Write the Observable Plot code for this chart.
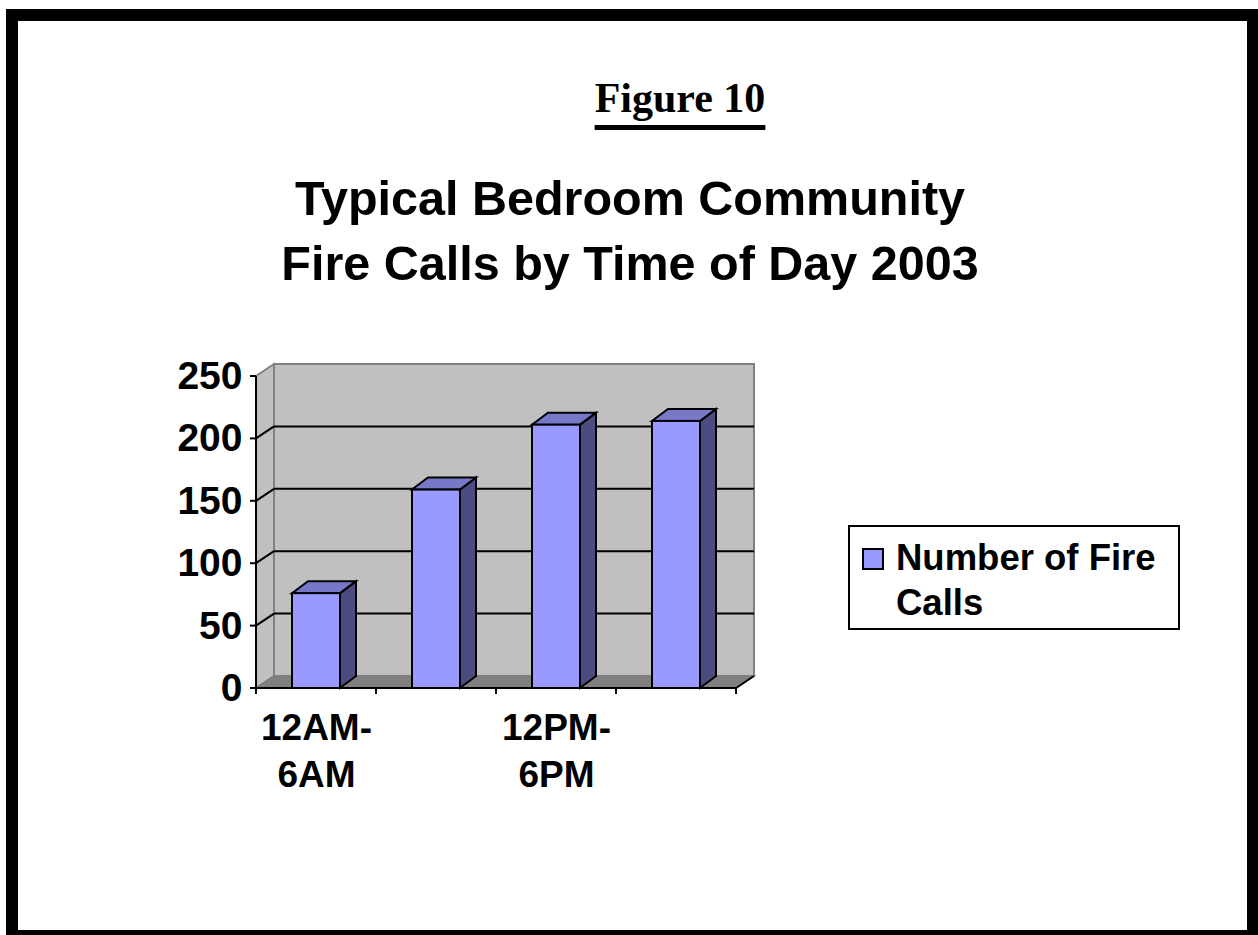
<!DOCTYPE html>
<html>
<head>
<meta charset="utf-8">
<script src="https://cdn.jsdelivr.net/npm/d3@7"></script>
<script src="https://cdn.jsdelivr.net/npm/@observablehq/plot@0.6"></script>
<style>
  html, body { margin: 0; padding: 0; background: #fff; }
  body { width: 1258px; height: 935px; overflow: hidden; position: relative; }
  #chart { position: absolute; left: 0; top: 0; }
  .frame { position: absolute; left: 6px; top: 9px; width: 1253px; height: 933px;
           border: 12px solid #000; box-sizing: border-box; pointer-events: none; }
  .fig { position: absolute; left: 0; top: 78px; width: 1360px; text-align: center;
         font-family: "Liberation Serif", "Times New Roman", serif; font-weight: bold;
         font-size: 42px; line-height: 40px; color: #000; }
  .fig span { text-decoration: underline; text-decoration-thickness: 5px; text-underline-offset: 13px; }
  .title { position: absolute; left: 0; top: 166px; width: 1260px; text-align: center;
           font-family: "Liberation Sans", Arial, sans-serif; font-weight: bold;
           font-size: 48.5px; line-height: 65px; color: #000; }
  .legend { position: absolute; left: 848px; top: 525px; width: 332px; height: 105px;
            border: 2px solid #000; box-sizing: border-box; background: #fff; }
  .legend .sw { position: absolute; left: 12px; top: 21px; width: 22px; height: 22px;
                background: #9999FF; border: 2px solid #000; box-sizing: border-box; }
  .legend .lt { position: absolute; left: 46px; top: 8px; width: 290px;
                font-family: "Liberation Sans", Arial, sans-serif; font-weight: bold;
                font-size: 36.5px; line-height: 45px; color: #000; white-space: nowrap; }
</style>
</head>
<body>
<div id="chart"></div>
<div class="fig"><span>Figure 10</span></div>
<div class="title">Typical Bedroom Community<br>Fire Calls by Time of Day 2003</div>
<div class="legend"><div class="sw"></div><div class="lt" id="legendText"></div></div>
<div class="frame"></div>
<script>
// ---- data ----
const categories = ["12AM-6AM", "6AM-12PM", "12PM-6PM", "6PM-12AM"];
const fireCalls = [76, 159, 211, 214];
const yTicks = [0, 50, 100, 150, 200, 250];
const xTickLabels = ["12AM-6AM", "12PM-6PM"];
const seriesName = "Number of Fire Calls";

const data = categories.map((c, i) => ({category: c, calls: fireCalls[i]}));

// ---- styles ----
const FRONT = "#9999FF", TOP = "#7878C8", SIDE = "#4C4C80";
const WALL = "#C0C0C0", FLOOR = "#808080", EDGE = "#808080";
const DX = 18, DY = -12;      // wall depth
const BDX = 16, BDY = -12;    // bar depth
const INSET = 36;
const FONT = "'Liberation Sans', Arial, sans-serif";

document.getElementById("legendText").innerHTML = "Number of Fire<br>Calls";

function poly(g, pts, fill, stroke, sw) {
  g.append("polygon").attr("points", pts.map(p => p.join(",")).join(" "))
    .attr("fill", fill).attr("stroke", stroke).attr("stroke-width", sw)
    .attr("stroke-linejoin", "miter");
}
function line(g, a, b, stroke, sw) {
  g.append("line").attr("x1", a[0]).attr("y1", a[1]).attr("x2", b[0]).attr("y2", b[1])
    .attr("stroke", stroke).attr("stroke-width", sw);
}

// walls, floor, grid and axis lines
function walls(index, scales) {
  const x = scales.x, y = scales.y;
  const [xl, xr] = x.range();
  const y0 = y(yTicks[0]), yt = y(yTicks[yTicks.length - 1]);
  const g = d3.create("svg:g");
  poly(g, [[xl, y0], [xl, yt], [xl + DX, yt + DY], [xl + DX, y0 + DY]], WALL, EDGE, 2);
  poly(g, [[xl + DX, y0 + DY], [xl + DX, yt + DY], [xr + DX, yt + DY], [xr + DX, y0 + DY]], WALL, EDGE, 2);
  poly(g, [[xl, y0], [xr, y0], [xr + DX, y0 + DY], [xl + DX, y0 + DY]], FLOOR, EDGE, 1.5);
  for (const t of yTicks.slice(1, -1)) {
    const yy = y(t);
    line(g, [xl + DX, yy + DY], [xr + DX, yy + DY], "#000", 2);
    line(g, [xl, yy], [xl + DX, yy + DY], "#000", 2);
  }
  // y axis
  line(g, [xl, y0 + 1], [xl, yt], "#000", 2);
  for (const t of yTicks) line(g, [xl - 6, y(t)], [xl, y(t)], "#000", 2);
  // x axis
  line(g, [xl - 1, y0], [xr, y0], "#000", 2);
  const bounds = categories.map(c => x(c)).concat([xr]);
  for (const b of bounds) line(g, [b, y0], [b, y0 + 6], "#000", 2);
  line(g, [xr, y0], [xr + DX, y0 + DY], "#000", 2);
  return g.node();
}

// top and side faces of bars
function barFaces(index, scales) {
  const x = scales.x, y = scales.y;
  const bw = x.bandwidth();
  const y0 = y(0);
  const g = d3.create("svg:g");
  for (const d of data) {
    const x1 = x(d.category) + INSET, x2 = x(d.category) + bw - INSET, yv = y(d.calls);
    poly(g, [[x2, y0], [x2 + BDX, y0 + BDY], [x2 + BDX, yv + BDY], [x2, yv]], SIDE, "#000", 2);
    poly(g, [[x1, yv], [x2, yv], [x2 + BDX, yv + BDY], [x1 + BDX, yv + BDY]], TOP, "#000", 2);
  }
  return g.node();
}

const chart = Plot.plot({
  width: 1258,
  height: 935,
  marginLeft: 256,
  marginRight: 522,
  marginTop: 376,
  marginBottom: 247,
  style: {background: "transparent", fontFamily: FONT, overflow: "visible"},
  x: {type: "band", domain: categories, padding: 0, axis: null},
  y: {domain: [0, 250], axis: null},
  marks: [
    walls,
    barFaces,
    Plot.barY(data, {x: "category", y: "calls", fill: FRONT, stroke: "#000", strokeWidth: 2,
                     insetLeft: INSET, insetRight: INSET}),
    Plot.text(yTicks, {y: d => d, text: d => String(d), frameAnchor: "left", textAnchor: "end",
                       dx: -14, fontSize: 39, fontWeight: "bold", fontFamily: FONT, fill: "#000"}),
    Plot.text(xTickLabels, {x: d => d, text: d => d.split("-")[0] + "-", frameAnchor: "bottom",
                            dy: 51, fontSize: 37, fontWeight: "bold", fontFamily: FONT, fill: "#000"}),
    Plot.text(xTickLabels, {x: d => d, text: d => d.split("-")[1], frameAnchor: "bottom",
                            dy: 98, fontSize: 37, fontWeight: "bold", fontFamily: FONT, fill: "#000"})
  ]
});
document.getElementById("chart").appendChild(chart);
</script>
</body>
</html>
